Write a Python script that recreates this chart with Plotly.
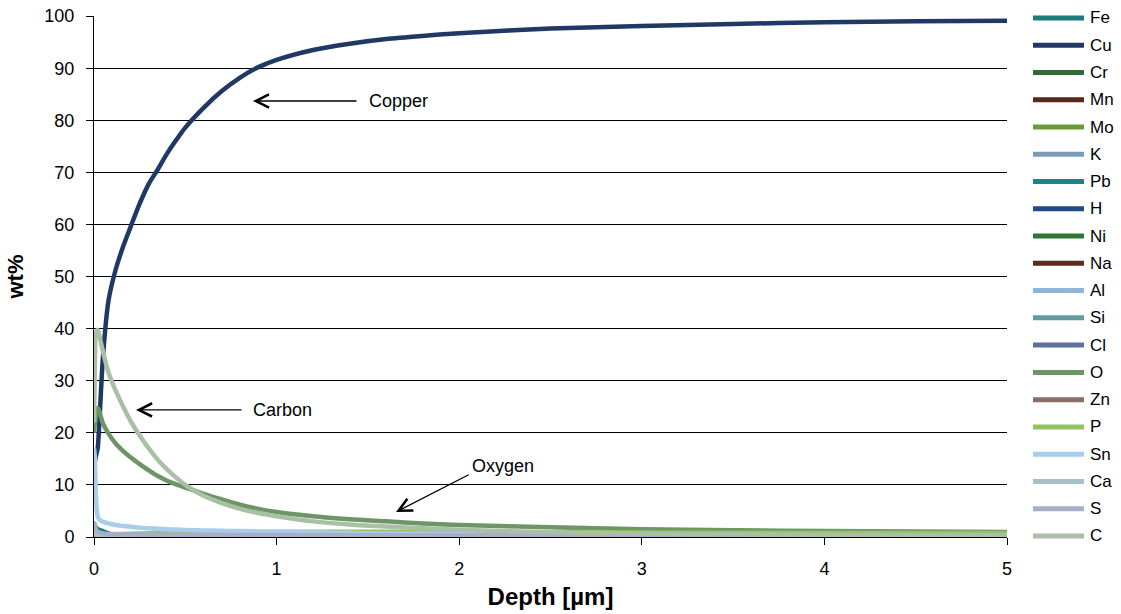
import plotly.graph_objects as go

# main depth grid (µm) for the major elements
depth = [0, 0.005, 0.01, 0.02, 0.03, 0.05, 0.08, 0.12, 0.16, 0.2, 0.25, 0.3, 0.35, 0.4,
         0.45, 0.5, 0.6, 0.7, 0.8, 0.9, 1.0, 1.2, 1.4, 1.6, 1.8, 2.0, 2.5, 3.0, 3.5,
         4.0, 4.5, 5.0]
cu = [13.0, 14.5, 15.5, 17.0, 22.5, 35.0, 45.5, 51.5, 55.8, 59.5, 64.0, 67.8, 70.6, 73.6,
      76.2, 78.6, 82.4, 85.6, 88.2, 90.2, 91.6, 93.5, 94.7, 95.6, 96.2, 96.7, 97.6, 98.1,
      98.5, 98.8, 99.0, 99.1]
o = [20.0, 22.0, 23.5, 24.8, 24.0, 21.7, 19.8, 17.9, 16.5, 15.3, 14.0, 12.8, 11.7, 10.8,
     10.1, 9.5, 8.3, 7.2, 6.2, 5.4, 4.8, 4.0, 3.4, 3.0, 2.6, 2.3, 1.85, 1.5, 1.3, 1.15,
     1.05, 0.95]
sn = [17.0, 15.0, 8.0, 4.0, 3.3, 2.9, 2.6, 2.3, 2.1, 1.95, 1.8, 1.68, 1.58, 1.5, 1.42,
      1.36, 1.27, 1.2, 1.13, 1.05, 0.97, 0.85, 0.75, 0.67, 0.6, 0.55, 0.45, 0.4, 0.35,
      0.32, 0.3, 0.28]
c = [22.0, 33.0, 39.0, 39.8, 38.5, 35.5, 31.5, 28.0, 25.0, 22.3, 19.5, 17.0, 14.8, 13.0,
     11.4, 10.0, 7.9, 6.5, 5.4, 4.6, 4.0, 3.0, 2.4, 2.0, 1.7, 1.4, 0.9, 0.65, 0.52, 0.44,
     0.38, 0.33]

# coarser depth grid (µm) for the minor elements
depth_minor = [0, 0.005, 0.01, 0.02, 0.05, 0.1, 0.2, 0.5, 1.0, 2.0, 3.0, 5.0]
fe = [2.5, 2.2, 1.9, 1.5, 1.1, 0.5, 0.3, 0.2, 0.17, 0.14, 0.12, 0.1]
cr = [0.3, 0.28, 0.25, 0.2, 0.15, 0.1, 0.08, 0.05, 0.04, 0.03, 0.03, 0.03]
mn = [0.1, 0.1, 0.1, 0.08, 0.06, 0.05, 0.04, 0.03, 0.02, 0.02, 0.02, 0.02]
mo = [0.2, 0.2, 0.18, 0.15, 0.1, 0.08, 0.06, 0.04, 0.03, 0.03, 0.03, 0.03]
k = [1.5, 1.2, 1.0, 0.8, 0.5, 0.38, 0.3, 0.23, 0.18, 0.15, 0.13, 0.11]
pb = [0.4, 0.35, 0.3, 0.25, 0.15, 0.1, 0.08, 0.05, 0.04, 0.03, 0.03, 0.03]
h = [0.05, 0.05, 0.05, 0.05, 0.05, 0.05, 0.05, 0.05, 0.05, 0.05, 0.05, 0.05]
ni = [0.3, 0.28, 0.25, 0.2, 0.14, 0.1, 0.09, 0.06, 0.05, 0.04, 0.04, 0.04]
na = [0.8, 0.7, 0.6, 0.45, 0.25, 0.15, 0.12, 0.08, 0.06, 0.05, 0.04, 0.04]
al = [1.2, 1.0, 0.8, 0.6, 0.4, 0.3, 0.25, 0.18, 0.14, 0.11, 0.1, 0.09]
si = [1.0, 0.8, 0.6, 0.5, 0.35, 0.28, 0.24, 0.17, 0.13, 0.1, 0.09, 0.08]
cl = [0.6, 0.5, 0.4, 0.3, 0.2, 0.16, 0.12, 0.08, 0.06, 0.05, 0.04, 0.04]
zn = [0.5, 0.45, 0.4, 0.35, 0.25, 0.18, 0.15, 0.11, 0.08, 0.07, 0.06, 0.05]
p = [0.4, 0.4, 0.4, 0.4, 0.45, 0.52, 0.6, 0.85, 1.0, 0.95, 0.85, 0.75]
ca = [1.0, 0.8, 0.6, 0.45, 0.35, 0.31, 0.28, 0.24, 0.21, 0.19, 0.18, 0.16]
s = [3.0, 2.2, 1.5, 1.0, 0.7, 0.58, 0.5, 0.43, 0.38, 0.33, 0.3, 0.27]

names = ["Fe", "Cu", "Cr", "Mn", "Mo", "K", "Pb", "H", "Ni", "Na",
         "Al", "Si", "Cl", "O", "Zn", "P", "Sn", "Ca", "S", "C"]
series = [fe, cu, cr, mn, mo, k, pb, h, ni, na, al, si, cl, o, zn, p, sn, ca, s, c]
major = {"Cu", "O", "Sn", "C"}
colors = ["#1b7b7e", "#203864", "#2f6b34", "#57281b", "#6b9b37", "#7b9cb9",
          "#1a8486", "#1f4a87", "#307534", "#5f2b1d", "#90b5d8", "#5e9ca0",
          "#5c6f9e", "#6d9566", "#8a6d66", "#94c262", "#a8cdea", "#a6c2c6",
          "#a9aec8", "#a9c0a7"]

annot_text = ["Copper", "Carbon", "Oxygen"]
annot_text_x = [1.495, 0.86, 2.06]
annot_text_y = [83.7, 24.4, 13.6]
arrow_tip_x = [0.87, 0.23, 1.654]
arrow_tip_y = [83.7, 24.4, 4.8]
arrow_tail_x = [1.446, 0.816, 2.06]
arrow_tail_y = [83.7, 24.4, 12.1]

FONT = "Liberation Sans, Arial, sans-serif"
W, H = 1121, 614
PL, PR, PT, PB = 94, 1007, 16, 537   # plot area in pixels
ML, MT, MR, MB = PL, PT, W - PR, H - PB
PW, PH = PR - PL, PB - PT

fig = go.Figure()
for nm, vals, col in zip(names, series, colors):
    xs = depth if nm in major else depth_minor
    fig.add_trace(go.Scatter(
        x=xs, y=vals, name=nm, mode="lines", showlegend=False,
        line=dict(color=col, width=4.5, shape="spline", smoothing=0.8),
    ))

# legend drawn at the right (Excel style)
leg_top, leg_step = 18, 27.26
for i, (nm, col) in enumerate(zip(names, colors)):
    yp = (PB - (leg_top + i * leg_step)) / PH
    fig.add_shape(type="line", xref="paper", yref="paper",
                  x0=(1033 - PL) / PW, x1=(1084 - PL) / PW, y0=yp, y1=yp,
                  line=dict(color=col, width=5))
    fig.add_annotation(xref="paper", yref="paper", x=(1088 - PL) / PW, y=yp,
                       text=nm, showarrow=False, xanchor="left", yanchor="middle",
                       font=dict(family=FONT, size=17, color="#000"))

for i, t in enumerate(annot_text):
    fig.add_annotation(x=annot_text_x[i], y=annot_text_y[i], text=t, showarrow=False,
                       xanchor="left", yanchor="middle",
                       font=dict(family=FONT, size=18, color="#000"))
    fig.add_annotation(x=arrow_tip_x[i], y=arrow_tip_y[i], ax=arrow_tail_x[i],
                       ay=arrow_tail_y[i], axref="x", ayref="y", text="",
                       showarrow=True, arrowhead=5, arrowsize=2, arrowwidth=1.3,
                       arrowcolor="#000", standoff=0)

fig.update_layout(
    width=W, height=H,
    margin=dict(l=ML, r=MR, t=MT, b=MB, autoexpand=False),
    paper_bgcolor="white", plot_bgcolor="white",
    font=dict(family=FONT, size=18, color="#000"),
    showlegend=False,
    xaxis=dict(range=[0, 5], dtick=1, showgrid=False, zeroline=False,
               showline=True, linecolor="#000", linewidth=1,
               ticks="outside", ticklen=7, tickcolor="#000", automargin=False,
               ticklabelstandoff=8, ticklabeloverflow="allow",
               tickfont=dict(family=FONT, size=18),
               title=dict(text="<b>Depth [µm]</b>", standoff=10,
                          font=dict(family=FONT, size=24))),
    yaxis=dict(range=[0, 100.02], tick0=0, dtick=10, showgrid=True, gridcolor="#000",
               gridwidth=1, zeroline=False, showline=True, linecolor="#000",
               linewidth=1, ticks="outside", ticklen=7, tickcolor="#000",
               automargin=False, ticklabelstandoff=8, ticklabeloverflow="allow",
               tickfont=dict(family=FONT, size=18),
               title=dict(text="<b>wt%</b>", standoff=14,
                          font=dict(family=FONT, size=22))),
)

# remove the default page margin so the figure fills the window exactly
fig.write_html("out.html", config={"displayModeBar": False},
               post_script="document.body.style.margin='0';")
